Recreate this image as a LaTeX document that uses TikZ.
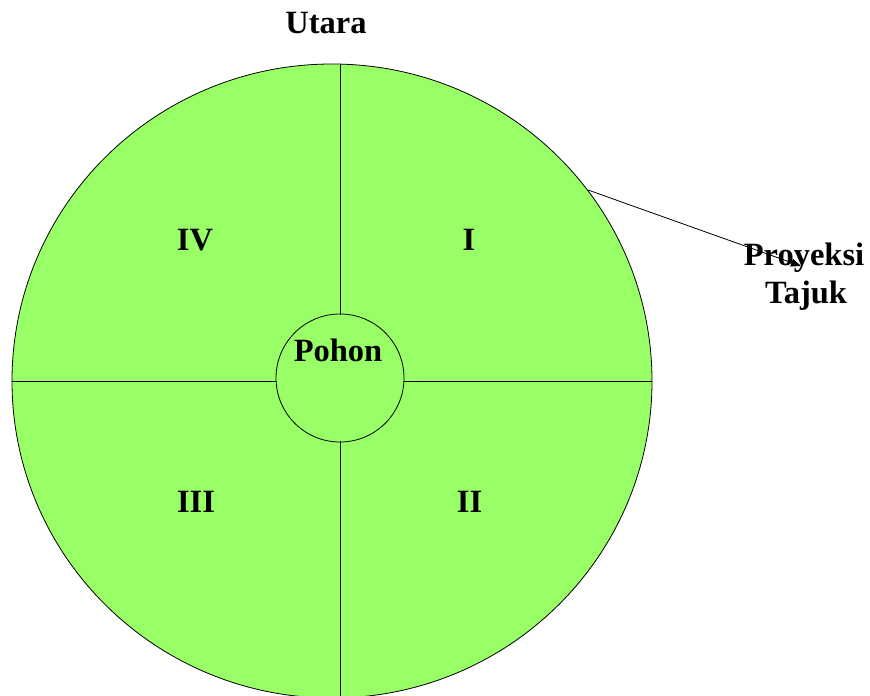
\documentclass[tikz,border=0pt]{standalone}
\usepackage{fontspec}
\setmainfont{Liberation Serif}
\usetikzlibrary{arrows.meta}
\definecolor{leaf}{RGB}{153,255,102}
\tikzset{
  lbl/.style={font=\fontsize{32.5}{36}\selectfont\bfseries, inner sep=0pt, anchor=base},
  divider/.style={draw=black, line width=1pt},
}
\begin{document}
\begin{tikzpicture}[x=1pt,y=-1pt]
\useasboundingbox (0,0) rectangle (870,696);
\clip (0,0) rectangle (870,696);
% crown projection
\draw[fill=leaf, draw=black, line width=0.8pt] (332,381) ellipse [x radius=320, y radius=317];
% trunk
\node[circle, draw=black, line width=0.8pt, fill=leaf, minimum size=128pt, inner sep=0pt] (trunk) at (340,378) {};
% quadrant dividers
\coordinate (n) at (340,64);
\coordinate (s) at (340,700);
\coordinate (w) at (12,381);
\coordinate (e) at (652,381);
\coordinate (tn) at (340,315);
\coordinate (ts) at (340,441);
\coordinate (tw) at (276,381);
\coordinate (te) at (404,381);
\draw[divider] (n) -- (tn);
\draw[divider] (ts) -- (s);
\draw[divider] (w) -- (tw);
\draw[divider] (te) -- (e);
% labels
\node[lbl] (utara) at (326,33) {Utara};
\node[lbl] (pohon) at (338,361) {Pohon};
\node[lbl] (q4) at (195,250) {IV};
\node[lbl] (q1) at (469,250) {I};
\node[lbl] (q3) at (196,512) {III};
\node[lbl] (q2) at (469.5,512) {II};
\node[lbl] (proy) at (804,265) {Proyeksi};
\node[lbl] (tajuk) at (806,303) {Tajuk};
% pointer to crown label
\coordinate (edge) at (588,190);
\coordinate (tip) at (801,266);
\draw[line width=0.8pt, -{Triangle[length=10pt,width=8pt]}] (edge) -- (tip);
\end{tikzpicture}
\end{document}
